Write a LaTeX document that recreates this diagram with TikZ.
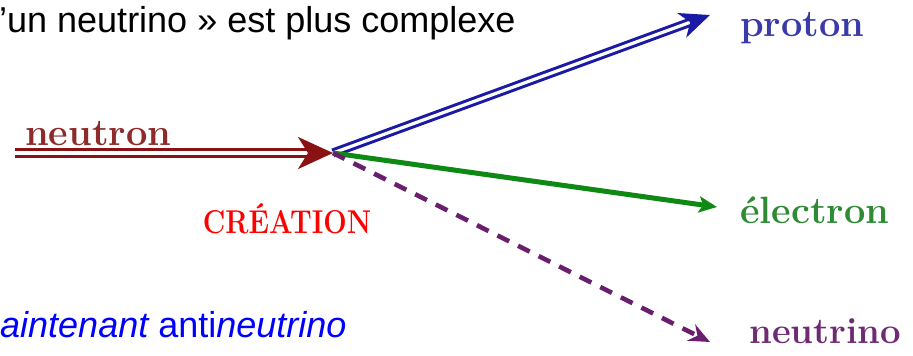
\documentclass[tikz,border=0pt]{standalone}
\usepackage{fontspec}
\newfontfamily\arialfont{Liberation Sans}
\usetikzlibrary{arrows.meta}
\definecolor{nred}{HTML}{8B1212}
\definecolor{pblue}{HTML}{1A1AA6}
\definecolor{egreen}{HTML}{0E8A14}
\definecolor{npurple}{HTML}{6A1F6E}
\definecolor{lred}{HTML}{8E2A2A}
\definecolor{lblue}{HTML}{3A3AA8}
\definecolor{lgreen}{HTML}{2E8B34}
\definecolor{lpurple}{HTML}{6E2A72}
\tikzset{
  dbl/.style={line width=3pt, double distance=3.2pt, double=white},
  lbl/.style={inner sep=0pt, anchor=base west},
  partfont/.style={font=\bfseries\fontsize{38}{40}\selectfont},
}
\begin{document}
\begin{tikzpicture}[x=1pt,y=-1pt]
\useasboundingbox (0,0) rectangle (913,356);
\fill[white] (0,0) rectangle (913,356);
% texts of the slide
\node[lbl] (top) at (-1,32) {\arialfont\fontsize{36}{40}\selectfont ’un neutrino » est plus complexe};
\node[lbl, text=blue] (bot) at (0,337) {\arialfont\fontsize{36}{40}\selectfont\itshape aintenant \upshape anti\itshape neutrino};
% vertex and ends
\coordinate (v) at (333,153);
\coordinate (nstart) at (15,153);
\coordinate (ptip) at (710,15);
\coordinate (etip) at (717,207);
\coordinate (ntip) at (710,342);
% arrows
\draw[dbl, nred, -{Stealth[length=35pt,width=32pt,inset=10pt]}] (nstart) -- (v);
\draw[dbl, pblue, -{Stealth[length=30pt,width=26pt,inset=9pt]}] (v) -- (ptip);
\draw[line width=5pt, egreen, -{Stealth[length=18pt,width=16pt,inset=4pt]}] (v) -- (etip);
\draw[line width=4.6pt, npurple, dash pattern=on 13pt off 10pt, -{Stealth[length=21pt,width=18pt,inset=7pt]}] (v) -- (ntip);
% labels
\node[lbl, partfont, text=lred] (lneutron) at (25,145) {neutron};
\node[lbl, text=red, anchor=base] (lcreation) at (287,233) {\scalebox{0.84}[1]{\bfseries\fontsize{33}{36}\selectfont CRÉATION}};
\node[lbl, partfont, text=lblue] (lproton) at (740,36) {proton};
\node[lbl, partfont, text=lgreen] (lelectron) at (740,223) {électron};
\node[lbl, partfont, text=lpurple, font=\bfseries\fontsize{36.5}{40}\selectfont] (lneutrino) at (749,343) {neutrino};
\end{tikzpicture}
\end{document}
